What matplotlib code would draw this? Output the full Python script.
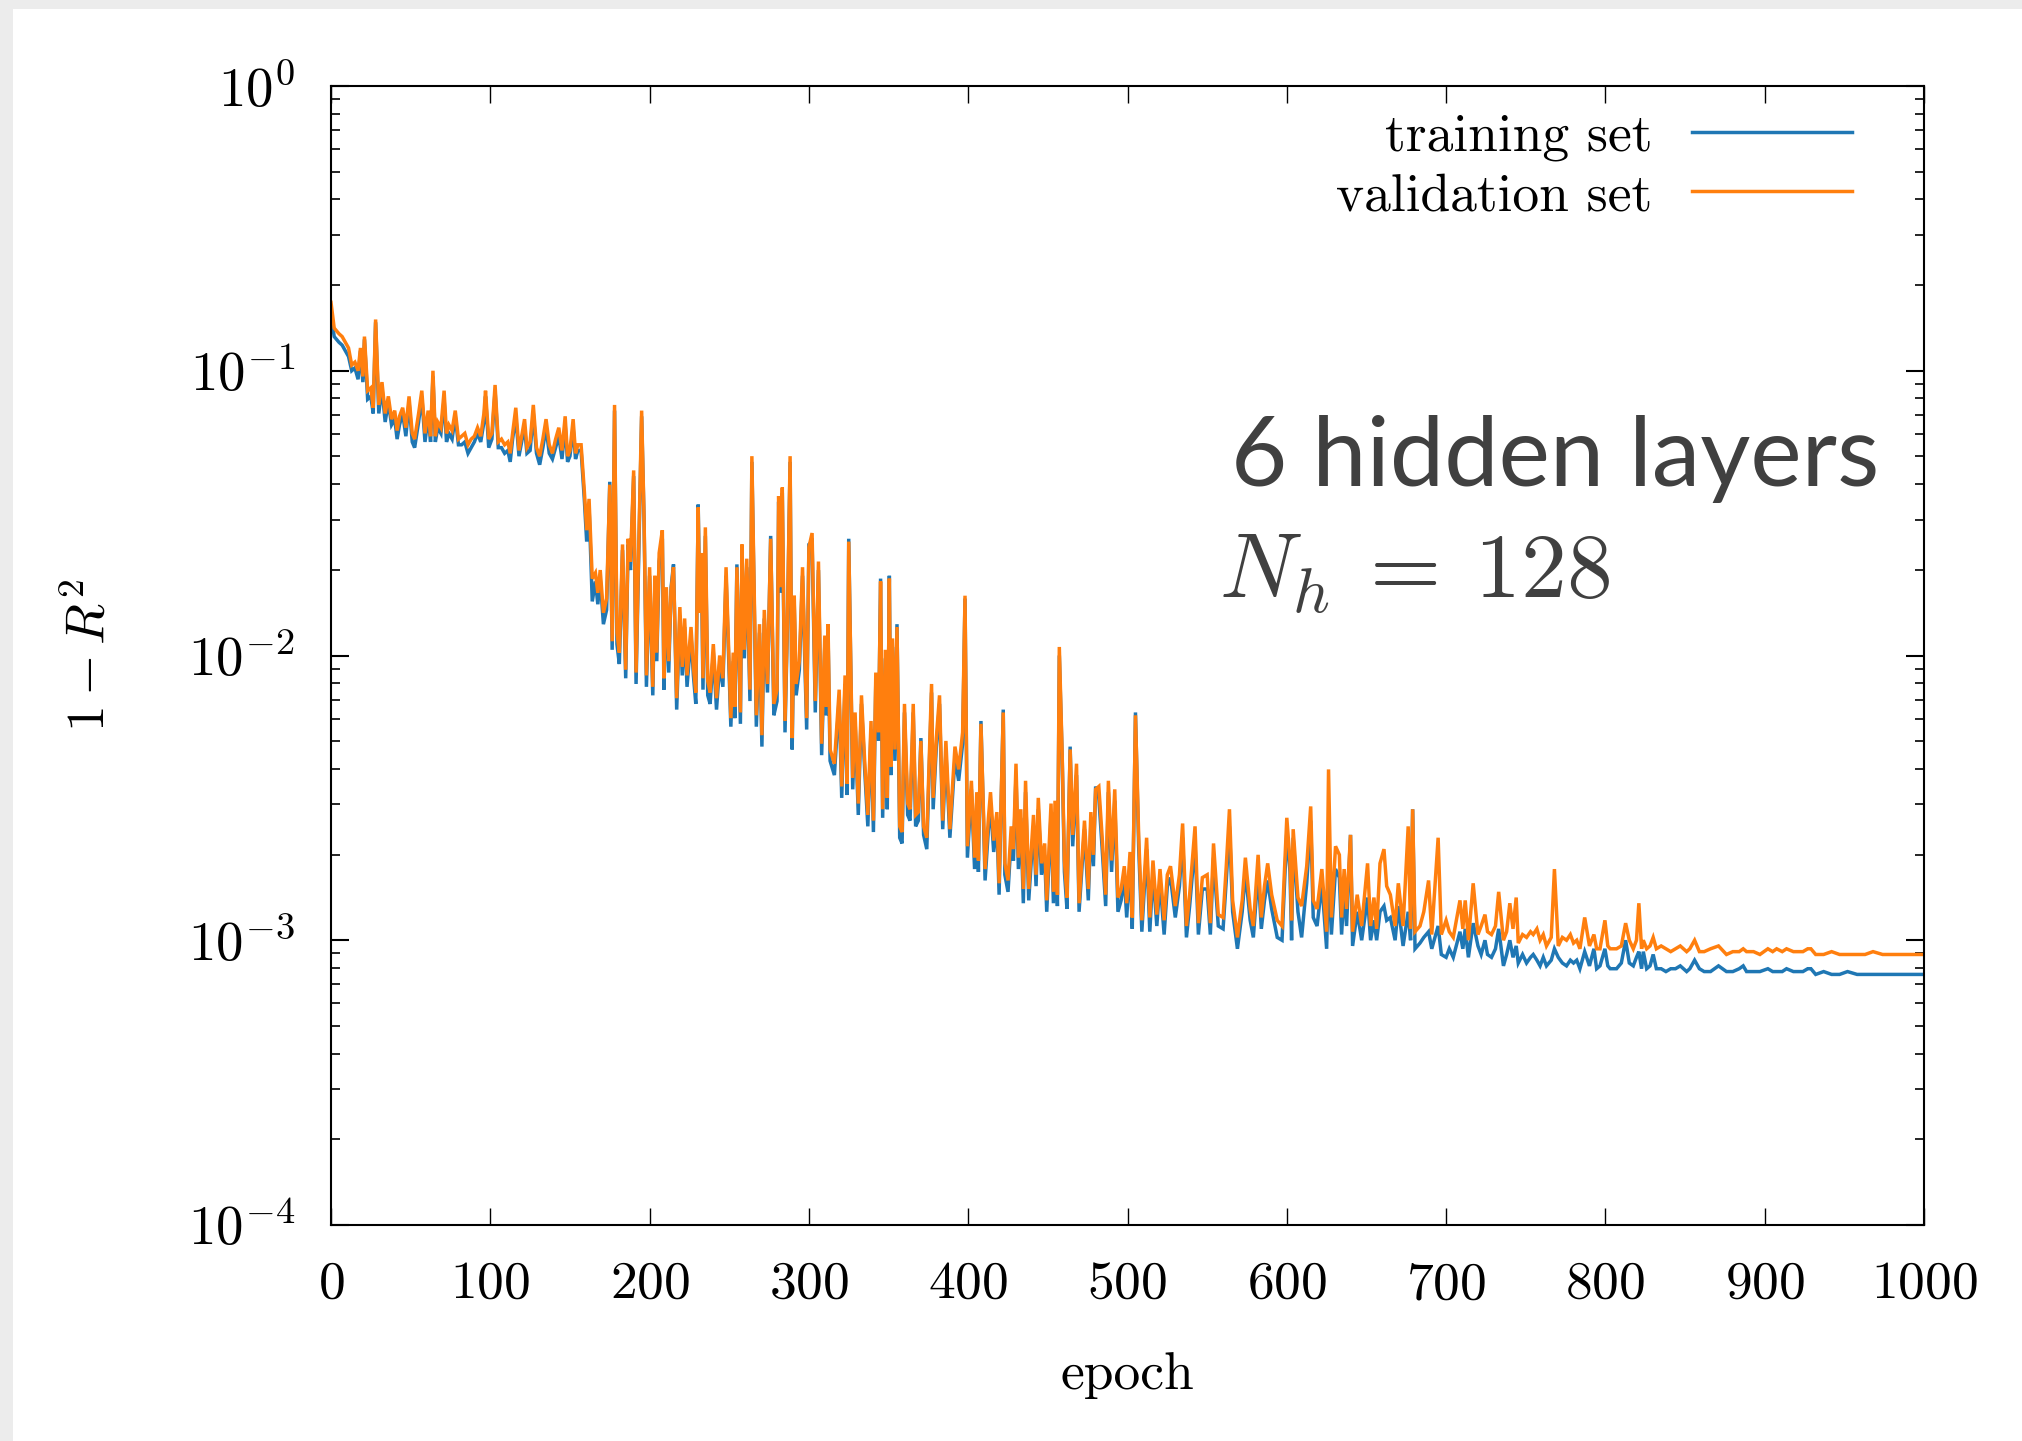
import numpy as np
import matplotlib
matplotlib.use("Agg")
import matplotlib.pyplot as plt
from matplotlib.patches import Rectangle
from matplotlib.lines import Line2D
from matplotlib.ticker import LogLocator, NullFormatter

plt.rcParams['mathtext.fontset'] = 'cm'
plt.rcParams['font.family'] = ['cmr10', 'DejaVu Sans']
plt.rcParams['axes.unicode_minus'] = False

# ---------------- data (log10 of 1 - R^2) ----------------
epA = [0,2,5,7,9,11,13,15,17,18.5,20,21,23,25,26.5,28,30,32,34,36,38,40,41.5,43,45,47,49,51,52.5,55,
       57,59,61,62.5,64,65.5,67,69,71,72.5,74,76,78,80,82,84,86,88,90,92,94,96,97,99,101,103,105,107,109,111,
       112.5,114,116,118,120,121.5,123,125,127,129,131,133,135,137,139,141,143,145,147,148.5,150,152,153.5,155,157]
valA = [-0.76,-0.85,-0.87,-0.88,-0.90,-0.92,-0.98,-0.97,-1.00,-0.92,
        -1.02,-0.88,-1.07,-1.06,-1.13,-0.82,-1.12,-1.04,-1.15,-1.09,
        -1.17,-1.14,-1.21,-1.16,-1.13,-1.20,-1.09,-1.22,-1.24,-1.15,
        -1.07,-1.22,-1.14,-1.23,-1.00,-1.23,-1.18,-1.20,-1.07,-1.22,
        -1.19,-1.21,-1.14,-1.24,-1.23,-1.22,-1.26,-1.24,-1.23,-1.20,
        -1.23,-1.15,-1.07,-1.24,-1.22,-1.05,-1.25,-1.24,-1.26,-1.25,
        -1.29,-1.22,-1.13,-1.28,-1.22,-1.17,-1.27,-1.25,-1.12,-1.27,
        -1.30,-1.24,-1.17,-1.26,-1.29,-1.24,-1.20,-1.28,-1.16,-1.30,
        -1.28,-1.17,-1.29,-1.26,-1.26]
trainA = [-0.80,-0.88,-0.90,-0.91,-0.93,-0.95,-1.00,-0.99,-1.03,-0.93,
          -1.04,-0.89,-1.10,-1.09,-1.15,-0.83,-1.15,-1.06,-1.18,-1.11,
          -1.19,-1.17,-1.24,-1.19,-1.15,-1.23,-1.11,-1.25,-1.27,-1.18,
          -1.09,-1.25,-1.16,-1.25,-1.02,-1.25,-1.20,-1.22,-1.10,-1.25,
          -1.22,-1.24,-1.16,-1.26,-1.26,-1.25,-1.29,-1.27,-1.25,-1.22,
          -1.25,-1.18,-1.09,-1.27,-1.24,-1.07,-1.27,-1.27,-1.29,-1.28,
          -1.32,-1.24,-1.16,-1.30,-1.24,-1.20,-1.29,-1.28,-1.15,-1.29,
          -1.33,-1.27,-1.20,-1.29,-1.31,-1.27,-1.23,-1.31,-1.19,-1.32,
          -1.30,-1.20,-1.31,-1.28,-1.28]

epB = [159,160.5,162,164,166,167.5,169,171,173,175,
       176.5,178,179.5,181,183,185,186.5,188,190,191.5,
       193,195,196.5,198,200,202,203.3,204.5,206,208,
       209,210.5,212,213.5,215,217,219,220.5,222,223.5,
       226,227.5,229,230.5,231.5,232.5,233.5,235,236.5,238,
       240,242,244,246,248,251,252.5,253.5,254.8,257,
       258,259.5,261,263,264.2,267,269,270.5,272,274,
       276,278,280,281,282,283.3,285,286.5,288.2,289.5,
       290.8,292,294,296,298.6,300,302,304,306,308,
       310,311,312,313.3,316,319,320.6,322.7,324,325,
       327.5,329,331,333,335,337,339,340.5,342,343.7,
       345,346.3,348,349.2,350.5,351.5,352.5,354,355.3,357,
       358.5,360,362,363.5,365.5,367,368.7,370.3,372,374,
       377,378,380,382,384,386,388.5,391.7,394,396.5]
valB = [-1.42,-1.56,-1.45,-1.73,-1.71,-1.78,-1.70,-1.85,-1.80,-1.40,
        -1.95,-1.12,-1.92,-1.99,-1.61,-2.05,-1.59,-1.67,-1.35,-2.06,
        -1.67,-1.14,-1.51,-2.07,-1.69,-2.11,-1.72,-1.99,-1.64,-1.56,
        -2.08,-1.76,-2.02,-1.77,-1.69,-2.15,-1.83,-2.04,-1.87,-2.07,
        -1.90,-2.04,-2.13,-1.48,-1.85,-1.64,-2.08,-1.55,-2.09,-2.13,
        -1.96,-2.15,-2.00,-2.08,-1.69,-2.22,-1.99,-2.18,-1.69,-2.20,
        -1.61,-1.98,-1.66,-2.12,-1.30,-2.21,-1.89,-2.28,-1.84,-2.10,
        -1.59,-2.17,-2.12,-1.44,-1.76,-1.41,-2.23,-1.88,-1.30,-2.29,
        -1.79,-2.10,-2.02,-1.69,-2.22,-1.62,-1.57,-2.16,-1.67,-2.31,
        -1.93,-2.18,-1.89,-2.33,-2.38,-2.12,-2.46,-2.07,-2.45,-1.60,
        -2.43,-2.20,-2.52,-2.14,-2.37,-2.56,-2.23,-2.58,-2.06,-2.27,
        -1.74,-2.54,-1.98,-2.50,-1.73,-2.39,-1.94,-2.33,-1.90,-2.60,
        -2.62,-2.17,-2.52,-2.54,-2.17,-2.56,-2.55,-2.30,-2.60,-2.64,
        -2.10,-2.50,-2.29,-2.14,-2.58,-2.30,-2.61,-2.32,-2.40,-2.27]
trainB = [-1.45,-1.60,-1.48,-1.81,-1.74,-1.82,-1.73,-1.89,-1.84,-1.39,
          -1.98,-1.14,-1.96,-2.03,-1.63,-2.08,-1.61,-1.70,-1.37,-2.10,
          -1.70,-1.16,-1.52,-2.11,-1.72,-2.14,-1.75,-2.02,-1.67,-1.59,
          -2.12,-1.79,-2.06,-1.76,-1.68,-2.19,-1.86,-2.07,-1.90,-2.11,
          -1.93,-2.07,-2.17,-1.47,-1.83,-1.66,-2.12,-1.58,-2.14,-2.17,
          -1.99,-2.19,-2.03,-2.11,-1.72,-2.25,-2.02,-2.22,-1.68,-2.24,
          -1.63,-2.01,-1.69,-2.16,-1.32,-2.25,-1.92,-2.32,-1.87,-2.13,
          -1.58,-2.21,-2.16,-1.46,-1.78,-1.43,-2.27,-1.90,-1.32,-2.33,
          -1.82,-2.14,-2.05,-1.72,-2.26,-1.61,-1.60,-2.20,-1.70,-2.35,
          -1.96,-2.21,-1.92,-2.37,-2.42,-2.15,-2.50,-2.10,-2.49,-1.59,
          -2.47,-2.23,-2.56,-2.17,-2.40,-2.60,-2.26,-2.62,-2.09,-2.30,
          -1.73,-2.57,-2.01,-2.54,-1.72,-2.42,-1.97,-2.37,-1.89,-2.64,
          -2.66,-2.20,-2.56,-2.58,-2.20,-2.60,-2.58,-2.29,-2.63,-2.68,
          -2.13,-2.54,-2.32,-2.17,-2.61,-2.34,-2.64,-2.36,-2.44,-2.31]

epC = [398,399.5,402,404,405.4,406.4,408,410.6,412.7,414,
       416,418,419.4,422,423,425,427,428.4,430,431.5,
       433,434.6,436,438,441,442.6,444,446,448,449.3,
       452,453.5,454.5,456,457.2,459,460.4,462,464,465.6,
       468,469.6,473,475.4,477,478.6,480,482,484,486.3,
       488,490,492,494,496,498,499.5,501.6,503,505,
       507,509,512,514,516,518.4,520.4,523,525,527,
       530,532.6,534.6,537,539,542.4,544.5,547,550,552,
       554,557,560,562,564,566,569,572,574,577,
       579,582,584,586,588,590.5,594,597]
valC = [-1.79,-2.67,-2.44,-2.71,-2.48,-2.72,-2.24,-2.75,-2.57,-2.48,
        -2.65,-2.55,-2.80,-2.20,-2.73,-2.79,-2.60,-2.68,-2.38,-2.71,
        -2.54,-2.82,-2.44,-2.82,-2.56,-2.77,-2.50,-2.73,-2.66,-2.86,
        -2.52,-2.83,-2.51,-2.84,-1.97,-2.35,-2.72,-2.85,-2.33,-2.63,
        -2.38,-2.87,-2.58,-2.82,-2.55,-2.70,-2.47,-2.46,-2.63,-2.84,
        -2.44,-2.72,-2.47,-2.85,-2.82,-2.74,-2.87,-2.69,-2.92,-2.21,
        -2.63,-2.93,-2.64,-2.92,-2.72,-2.91,-2.75,-2.93,-2.77,-2.74,
        -2.88,-2.77,-2.59,-2.95,-2.84,-2.60,-2.94,-2.78,-2.77,-2.94,
        -2.66,-2.91,-2.92,-2.74,-2.54,-2.86,-2.99,-2.86,-2.71,-2.89,
        -2.95,-2.70,-2.92,-2.81,-2.73,-2.84,-2.93,-2.95]
trainC = [-1.80,-2.71,-2.47,-2.75,-2.51,-2.76,-2.23,-2.79,-2.61,-2.52,
          -2.69,-2.58,-2.84,-2.19,-2.77,-2.83,-2.64,-2.72,-2.42,-2.75,
          -2.57,-2.87,-2.48,-2.86,-2.60,-2.81,-2.54,-2.77,-2.70,-2.90,
          -2.56,-2.87,-2.55,-2.88,-2.00,-2.36,-2.76,-2.89,-2.32,-2.67,
          -2.42,-2.90,-2.61,-2.86,-2.59,-2.74,-2.46,-2.50,-2.67,-2.88,
          -2.48,-2.76,-2.51,-2.90,-2.86,-2.78,-2.92,-2.73,-2.96,-2.20,
          -2.67,-2.97,-2.68,-2.97,-2.76,-2.95,-2.79,-2.98,-2.81,-2.78,
          -2.92,-2.81,-2.64,-2.99,-2.88,-2.66,-2.98,-2.82,-2.82,-2.98,
          -2.71,-2.95,-2.96,-2.79,-2.60,-2.90,-3.03,-2.90,-2.76,-2.93,
          -2.99,-2.76,-2.96,-2.86,-2.79,-2.89,-2.99,-3.00]

epD = [600,602,603,604,607,609.3,612.5,615,616.6,619,
       622,625,626.2,628,630.6,633,634.4,636,637.5,640,
       641.3,644.2,647,650.7,652.6,654.7,656.4,658.5,661,662.7,
       665,668,670,673,676.2,677.7,679,680.5,683.6,686,
       689,691,695,697,700,702,704.5,708.7,710.5,712,
       714,717,720,722,724.4,726,728.5,731,733,736,
       738,740,742,744,745.3,748,750.5,753,754.7,757,
       759,761,763,766,768,770.4,773,775.6,778,780,
       782,784,787,790,792.8,794.5,796.6,799.7]
valD = [-2.57,-2.72,-2.93,-2.61,-2.85,-2.88,-2.74,-2.53,-2.86,-2.89,
        -2.75,-2.97,-2.40,-2.92,-2.67,-2.70,-2.92,-2.75,-2.89,-2.63,
        -2.97,-2.84,-2.95,-2.73,-2.95,-2.85,-2.96,-2.73,-2.68,-2.81,
        -2.84,-2.95,-2.80,-2.95,-2.60,-2.96,-2.54,-2.97,-2.95,-2.90,
        -2.79,-2.98,-2.64,-2.98,-2.93,-2.97,-2.99,-2.86,-2.96,-2.86,
        -3.00,-2.80,-2.98,-2.95,-2.91,-2.97,-2.98,-2.95,-2.83,-3.00,
        -2.97,-2.87,-2.96,-2.85,-3.01,-2.98,-2.99,-2.97,-2.98,-2.96,
        -3.00,-2.98,-3.02,-2.99,-2.75,-3.02,-2.99,-3.00,-2.98,-3.01,
        -3.00,-3.03,-2.92,-3.02,-2.98,-3.03,-3.03,-2.93]
trainD = [-2.62,-2.76,-3.00,-2.64,-2.90,-2.99,-2.80,-2.58,-2.92,-2.95,
          -2.80,-3.03,-2.75,-2.98,-2.75,-2.78,-2.98,-2.82,-2.95,-2.63,
          -3.02,-2.90,-3.00,-2.85,-3.00,-2.93,-3.00,-2.90,-2.88,-2.93,
          -2.92,-3.00,-2.88,-3.02,-2.90,-3.00,-2.54,-3.03,-3.01,-2.99,
          -2.97,-3.03,-2.95,-3.05,-3.06,-3.03,-3.06,-2.97,-3.03,-2.96,
          -3.06,-2.94,-3.02,-3.05,-3.00,-3.05,-3.06,-3.03,-2.96,-3.09,
          -3.05,-3.00,-3.06,-3.02,-3.08,-3.05,-3.08,-3.06,-3.05,-3.07,
          -3.09,-3.06,-3.09,-3.07,-3.03,-3.06,-3.08,-3.09,-3.07,-3.08,
          -3.07,-3.10,-3.04,-3.09,-3.03,-3.10,-3.09,-3.03]

epE = [801.5,803,807,810,812.7,815,817.5,819.5,821,822.7,
       823.8,825.9,828,830,832,835,838,841,844,847,
       851,853,856,859,862,866,871,876,880,884,
       886.5,888.6,893,897,902,905,907.5,911,913.7,918,
       922,924,927,929,932,937,942,947,952,958,
       963,968,974,979,985,990,995,1000]
valE = [-3.02,-3.03,-3.03,-3.02,-2.94,-3.00,-3.03,-3.00,-2.87,-3.03,
        -3.00,-3.03,-3.02,-2.99,-3.03,-3.02,-3.03,-3.04,-3.03,-3.02,
        -3.04,-3.03,-3.00,-3.04,-3.04,-3.03,-3.02,-3.05,-3.04,-3.04,
        -3.03,-3.04,-3.04,-3.05,-3.03,-3.04,-3.03,-3.04,-3.03,-3.04,
        -3.04,-3.04,-3.03,-3.03,-3.05,-3.05,-3.04,-3.05,-3.05,-3.05,
        -3.05,-3.04,-3.05,-3.05,-3.05,-3.05,-3.05,-3.05]
trainE = [-3.09,-3.10,-3.10,-3.08,-3.00,-3.08,-3.09,-3.06,-3.04,-3.10,
          -3.04,-3.10,-3.09,-3.05,-3.10,-3.10,-3.11,-3.10,-3.10,-3.09,
          -3.11,-3.10,-3.07,-3.10,-3.11,-3.11,-3.09,-3.11,-3.11,-3.10,
          -3.09,-3.11,-3.11,-3.11,-3.10,-3.11,-3.11,-3.11,-3.10,-3.11,
          -3.11,-3.11,-3.10,-3.10,-3.12,-3.11,-3.12,-3.12,-3.11,-3.12,
          -3.12,-3.12,-3.12,-3.12,-3.12,-3.12,-3.12,-3.12]

for e, v, t in [(epA, valA, trainA), (epB, valB, trainB), (epC, valC, trainC),
                (epD, valD, trainD), (epE, valE, trainE)]:
    assert len(e) == len(v) == len(t), (len(e), len(v), len(t))

epochs = np.array(epA + epB + epC + epD + epE)
val = 10.0 ** np.array(valA + valB + valC + valD + valE)
train = 10.0 ** np.array(trainA + trainB + trainC + trainD + trainE)

xticks = [0, 100, 200, 300, 400, 500, 600, 700, 800, 900, 1000]
yticks = [1e-4, 1e-3, 1e-2, 1e-1, 1e0]
ytick_labels = [r'$10^{-4}$', r'$10^{-3}$', r'$10^{-2}$', r'$10^{-1}$', r'$10^{0}$']
series_labels = ['training set', 'validation set']
c_train = '#1f77b4'
c_val = '#ff7f0e'

# ---------------- figure ----------------
W, H = 2022, 1441
fig = plt.figure(figsize=(W / 100, H / 100), dpi=100)
fig.patch.set_facecolor('#ececec')
fig.patches.append(Rectangle((13 / W, 0), 1, 1 - 9 / H, transform=fig.transFigure,
                             facecolor='white', edgecolor='none', zorder=-10))

L, R, T, B = 331, 1924, 86, 1225
ax = fig.add_axes([L / W, 1 - B / H, (R - L) / W, (B - T) / H])
ax.set_facecolor('white')

lw = 2.5
ax.plot(epochs, train, color=c_train, lw=lw, solid_joinstyle='miter')
ax.plot(epochs, val, color=c_val, lw=lw, solid_joinstyle='miter')

ax.set_yscale('log')
ax.set_xlim(0, 1000)
ax.set_ylim(1e-4, 1)
ax.set_xticks(xticks)
ax.set_xticklabels([r'$%d$' % x for x in xticks])
ax.set_yticks(yticks)
ax.set_yticklabels(ytick_labels)
ax.yaxis.set_minor_locator(LogLocator(base=10, subs=np.arange(2, 10)))
ax.yaxis.set_minor_formatter(NullFormatter())

fs = 38.5
ax.tick_params(axis='both', which='both', direction='in', top=True, right=True)
ax.tick_params(axis='x', which='major', length=12, width=1.0, pad=26, labelsize=fs)
ax.tick_params(axis='y', which='major', length=13, width=1.5, pad=26, labelsize=fs + 1)
ax.tick_params(axis='y', which='minor', length=6.5, width=1.2)
for s in ax.spines.values():
    s.set_linewidth(1.5)

ax.set_xlabel('epoch', fontsize=fs, fontfamily='cmr10')
ax.xaxis.label.set_va('baseline')
ax.xaxis.set_label_coords(0.5, (B - 1389) / (B - T))
ax.set_ylabel(r'$1-R^2$', fontsize=fs)
ax.yaxis.label.set_va('center')
ax.yaxis.set_label_coords((90 - L) / (R - L), 0.5)

handles = [Line2D([], [], color=c_train, lw=lw), Line2D([], [], color=c_val, lw=lw)]
ax.legend(handles, series_labels, loc='upper right',
          bbox_to_anchor=((1852 - L) / (R - L), (B - 113) / (B - T)),
          frameon=False, markerfirst=False, handlelength=3.0, handletextpad=0.73,
          borderpad=0, borderaxespad=0, labelspacing=0.22,
          prop={'family': 'cmr10', 'size': fs})

ax.text((1231 - L) / (R - L), (B - 486) / (B - T), '6 hidden layers', transform=ax.transAxes,
        fontsize=70, fontfamily='Lato', color='#404040', ha='left', va='baseline')
ax.text((1219 - L) / (R - L), (B - 597) / (B - T), r'$N_h\:=\:128$', transform=ax.transAxes,
        fontsize=66, color='#404040', ha='left', va='baseline')

fig.savefig('out.png', dpi=100, facecolor=fig.get_facecolor())
